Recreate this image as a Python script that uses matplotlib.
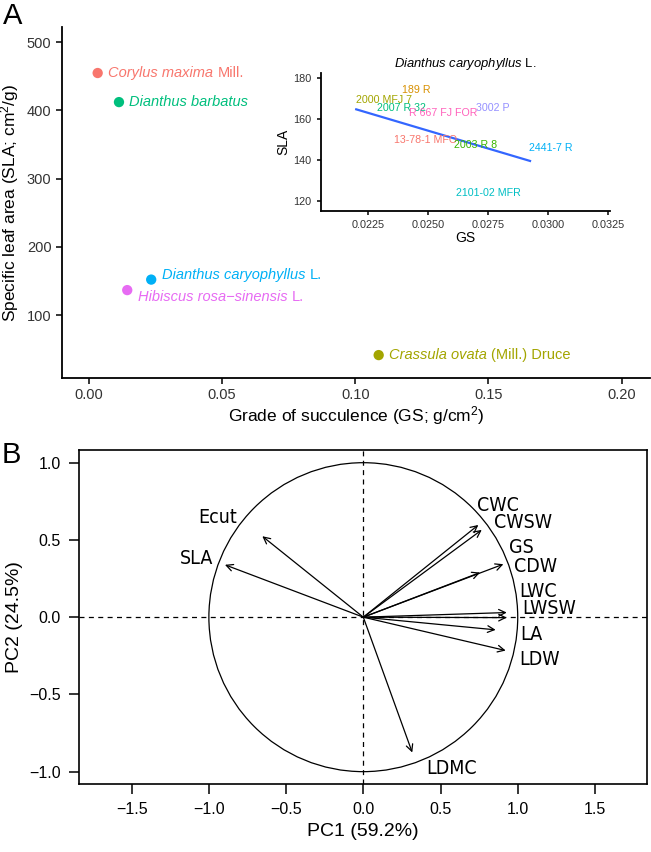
import matplotlib
matplotlib.use("Agg")
import matplotlib.pyplot as plt
from matplotlib.patches import Circle

plt.rcParams['font.family'] = ['Liberation Sans', 'DejaVu Sans']
plt.rcParams['mathtext.fontset'] = 'custom'
plt.rcParams['mathtext.rm'] = 'Liberation Sans'
plt.rcParams['mathtext.it'] = 'Liberation Sans:italic'

# ---- panel A data: species means
sp_italic = ['Corylus maxima', 'Dianthus barbatus', 'Dianthus caryophyllus',
             'Hibiscus rosa\u2212sinensis', 'Crassula ovata']
sp_author = ['Mill.', '', 'L.', 'L.', '(Mill.) Druce']
gs = [0.0033, 0.0113, 0.0234, 0.0144, 0.1088]
sla = [454.6, 412.0, 152.0, 136.6, 41.4]
sp_colors = ['#F8766D', '#00BF7D', '#00B0F6', '#E76BF3', '#A3A500']
label_dy = [0, 0, 3, -5, 0]

# ---- inset data: Dianthus caryophyllus cultivars
cultivars = ['13-78-1 MFO', '189 R', '2000 MFJ 7', '2003 R 8', '2007 R 32',
             '2101-02 MFR', '2441-7 R', '3002 P', 'R 667 FJ FOR']
cv_gs = [0.02488, 0.02448, 0.02316, 0.02699, 0.02390,
         0.02750, 0.03009, 0.02767, 0.02563]
cv_sla = [149.8, 174.3, 169.4, 147.3, 165.6, 123.6, 146.0, 165.6, 162.8]
cv_colors = ['#F8766D', '#D89000', '#A3A500', '#39B600', '#00BF7D',
             '#00BFC4', '#00B0F6', '#9590FF', '#FF62BC']
fit_gs = [0.0220, 0.02924]
fit_sla = [164.8, 139.5]

# ---- panel B data: PCA loadings
traits = ['CWC', 'CWSW', 'GS', 'CDW', 'LWC', 'LWSW', 'LA', 'LDW', 'LDMC', 'SLA', 'Ecut']
pc1 = [0.745, 0.767, 0.907, 0.756, 0.929, 0.929, 0.857, 0.922, 0.317, -0.896, -0.654]
pc2 = [0.597, 0.565, 0.343, 0.289, 0.030, -0.003, -0.082, -0.216, -0.876, 0.339, 0.524]
lab_x = [0.875, 1.036, 1.026, 1.116, 1.134, 1.205, 1.086, 1.140, 0.572, -1.079, -0.946]
lab_y = [0.720, 0.615, 0.450, 0.328, 0.166, 0.054, -0.110, -0.272, -0.982, 0.382, 0.645]

fig = plt.figure(figsize=(6.51, 8.52), dpi=100)

# Panel A
ax = fig.add_axes([0.0952, 0.5563, 0.903, 0.412])
ax.scatter(gs, sla, s=55, c=sp_colors, zorder=3, linewidths=0)
for x, y, it, au, col, dy in zip(gs, sla, sp_italic, sp_author, sp_colors, label_dy):
    t = ax.annotate(it, (x, y), xytext=(7.5, dy), textcoords='offset points',
                    va='center', ha='left', color=col, fontsize=10.5, style='italic')
    if au:
        ax.annotate(au, xy=(1, 0.5), xycoords=t, xytext=(3, 0),
                    textcoords='offset points', va='center', ha='left',
                    color=col, fontsize=10.5)
ax.set_xlim(-0.0101, 0.2106)
ax.set_ylim(7.8, 522)
ax.set_xticks([0.00, 0.05, 0.10, 0.15, 0.20])
ax.set_xticklabels(['0.00', '0.05', '0.10', '0.15', '0.20'])
ax.set_yticks([100, 200, 300, 400, 500])
for s in ['top', 'right']:
    ax.spines[s].set_visible(False)
for s in ['left', 'bottom']:
    ax.spines[s].set_linewidth(1.3)
ax.tick_params(labelsize=10.5, width=1.1, length=4, color='black', labelcolor='#333333')
ax.set_xlabel(r"Grade of succulence (GS; g/cm$^2$)", fontsize=12.5, labelpad=1)
ax.set_ylabel(r"Specific leaf area (SLA; cm$^2$/g)", fontsize=12.5, labelpad=4)
fig.text(0.005, 0.998, 'A', fontsize=21, va='top', ha='left')

# Inset
axi = fig.add_axes([0.4926, 0.7523, 0.4444, 0.162])
axi.plot(fit_gs, fit_sla, color='#3366FF', lw=1.6)
for x, y, name, col in zip(cv_gs, cv_sla, cultivars, cv_colors):
    axi.text(x, y, name, color=col, fontsize=7.7, ha='center', va='center')
axi.set_xlim(0.02052, 0.03257)
axi.set_ylim(114.95, 182.6)
axi.set_xticks([0.0225, 0.0250, 0.0275, 0.0300, 0.0325])
axi.set_xticklabels(['0.0225', '0.0250', '0.0275', '0.0300', '0.0325'])
axi.set_yticks([120, 140, 160, 180])
axi.patch.set_alpha(0)
for s in ['top', 'right']:
    axi.spines[s].set_visible(False)
for s in ['left', 'bottom']:
    axi.spines[s].set_linewidth(1.3)
axi.tick_params(labelsize=7.8, width=1.1, length=3, labelcolor='#333333')
axi.set_xlabel('GS', fontsize=10, labelpad=1)
axi.set_ylabel('SLA', fontsize=10, labelpad=2)
axi.set_title(r"$\mathit{Dianthus\ caryophyllus}$ L.", fontsize=9.4, pad=4)

# Panel B
bx = fig.add_axes([0.1209, 0.0798, 0.8734, 0.392])
bx.add_patch(Circle((0, 0), 1, fill=False, lw=0.9, color='black'))
bx.axhline(0, color='black', lw=0.9, ls=(0, (4, 3.5)))
bx.axvline(0, color='black', lw=0.9, ls=(0, (4, 3.5)))
for x, y in zip(pc1, pc2):
    bx.annotate('', xy=(x, y), xytext=(0, 0),
                arrowprops=dict(arrowstyle='->', lw=0.9, color='black',
                                shrinkA=0, shrinkB=0, mutation_scale=12))
for x, y, t in zip(lab_x, lab_y, traits):
    bx.text(x, y, t, fontsize=14, ha='center', va='center',
            family='DejaVu Sans', fontstretch='condensed')
bx.set_xlim(-1.843, 1.839)
bx.set_ylim(-1.08, 1.082)
bx.set_xticks([-1.5, -1.0, -0.5, 0.0, 0.5, 1.0, 1.5])
bx.set_xticklabels(['\u22121.5', '\u22121.0', '\u22120.5', '0.0', '0.5', '1.0', '1.5'])
bx.set_yticks([-1.0, -0.5, 0.0, 0.5, 1.0])
bx.set_yticklabels(['\u22121.0', '\u22120.5', '0.0', '0.5', '1.0'])
for s in bx.spines.values():
    s.set_linewidth(1.2)
bx.tick_params(labelsize=11.5, width=1.1, length=7, pad=6)
bx.set_xlabel('PC1 (59.2%)', fontsize=14, labelpad=4)
bx.set_ylabel('PC2 (24.5%)', fontsize=14, labelpad=4)
fig.text(0.003, 0.482, 'B', fontsize=21, va='top', ha='left')

fig.savefig('out.png', dpi=100)
